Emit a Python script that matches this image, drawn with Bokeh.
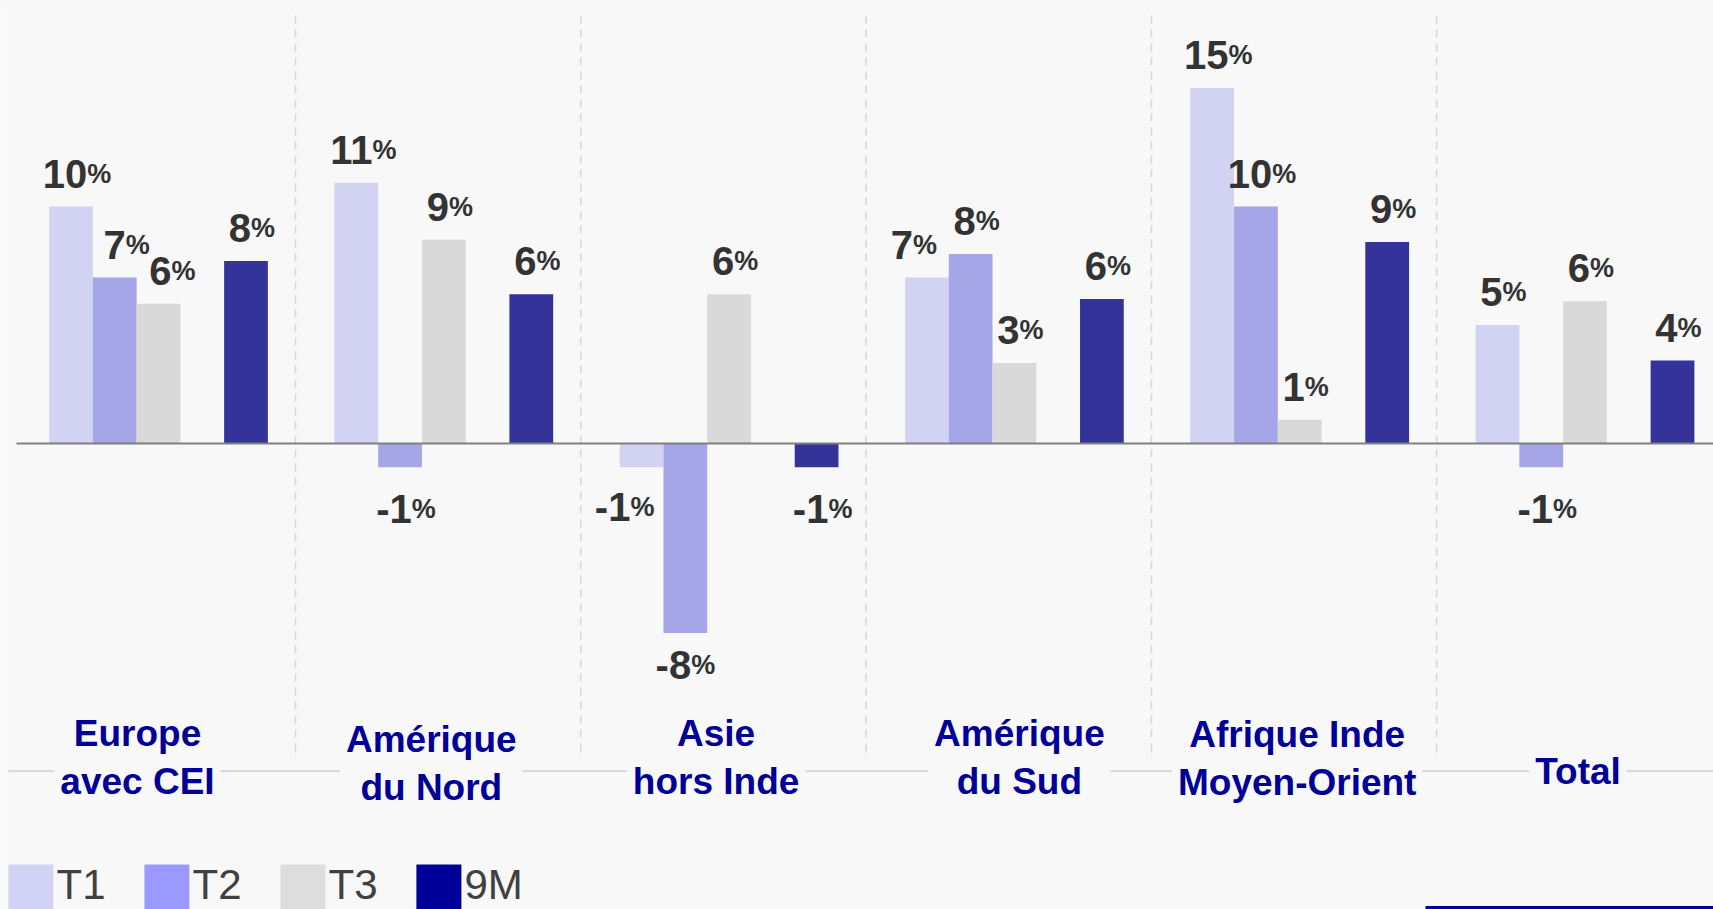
from bokeh.plotting import figure
from bokeh.models import Range1d, ColumnDataSource, Label
from bokeh.core.properties import value
from bokeh.embed import file_html
from bokeh.resources import INLINE

# ---------------- data ----------------
categories = ["Europe\navec CEI", "Amérique\ndu Nord", "Asie\nhors Inde",
              "Amérique\ndu Sud", "Afrique Inde\nMoyen-Orient", "Total"]
series = ["T1", "T2", "T3", "9M"]
t1 = [10.0, 11.0, -1.0, 7.0, 15.0, 5.0]
t2 = [7.0, -1.0, -8.0, 8.0, 10.0, -1.0]
t3 = [5.9, 8.6, 6.3, 3.4, 1.0, 6.0]
m9 = [7.7, 6.3, -1.0, 6.1, 8.5, 3.5]
t1_lbl = ["10", "11", "-1", "7", "15", "5"]
t2_lbl = ["7", "-1", "-8", "8", "10", "-1"]
t3_lbl = ["6", "9", "6", "3", "1", "6"]
m9_lbl = ["8", "6", "-1", "6", "9", "4"]

# ---------------- style ----------------
BG = "#F8F8F8"
bar_colors = ["#D2D2F2", "#A5A5E8", "#D9D9D9", "#333399"]
legend_colors = ["#D2D2F4", "#9999FF", "#DDDDDD", "#000099"]
FONT = "Liberation Sans"
W, H = 1713, 909
PX_PER_GROUP = 285.3
PX_PER_PCT = 23.7
slot = 43.75 / PX_PER_GROUP          # bar width in group units
slot_pos = [-2, -1, 0, 2]            # slot of each series inside a group

x0 = -0.5538
y1 = 18.692
x_end = x0 + W / PX_PER_GROUP
p = figure(width=W, height=H, output_backend="svg", toolbar_location=None,
           x_range=Range1d(x0, x_end),
           y_range=Range1d(y1 - H / PX_PER_PCT, y1),
           x_axis_location=None, y_axis_location=None,
           background_fill_color=BG, border_fill_color=BG,
           outline_line_color=None, min_border=0)
p.xgrid.visible = False
p.ygrid.visible = False


def sx(px):
    return x0 + px / PX_PER_GROUP


def sy(py):
    return y1 - py / PX_PER_PCT


n = len(categories)

# dashed separators between groups
sep_x = [i + 0.48 for i in range(n - 1)]
p.segment(x0=sep_x, x1=sep_x, y0=[sy(15)] * len(sep_x), y1=[sy(758)] * len(sep_x),
          line_color="#D9D9D9", line_width=1.6, line_dash="8 6")

# horizontal grey line behind category labels
LINE_Y = sy(770.7)
p.segment(x0=[sx(8)], x1=[x_end], y0=[LINE_Y], y1=[LINE_Y],
          line_color="#DADADA", line_width=2.2)

# bars
values = [t1, t2, t3, m9]
labels = [t1_lbl, t2_lbl, t3_lbl, m9_lbl]
for k in range(4):
    xs = [i + slot_pos[k] * slot for i in range(n)]
    p.vbar(x=xs, top=values[k], bottom=0, width=slot,
           fill_color=bar_colors[k], line_color=None)

# zero line
p.segment(x0=[sx(16)], x1=[x_end], y0=[0], y1=[0],
          line_color="#808080", line_width=2.2)

# value labels (number big, % small)
NUM_SIZE, PCT_SIZE = 40, 27
adv = {"-": 0.333, "%": 0.889}
nudges = {(0, 1): (12, 0), (0, 2): (14, 0), (2, 0): (-17, -2), (3, 0): (-13, 0),
          (2, 1): (0, -10)}
lx, ly, loff_x, loff_y, lnum = [], [], [], [], []
for k in range(4):
    for i in range(n):
        v = values[k][i]
        s = labels[k][i]
        nw = sum(adv.get(c, 0.556) for c in s) * NUM_SIZE
        pw = adv["%"] * PCT_SIZE
        dx, dy = nudges.get((i, k), (6, 0))
        lx.append(i + slot_pos[k] * slot)
        ly.append(v)
        loff_x.append((nw - pw) / 2 + dx)
        loff_y.append((-33 if v >= 0 else 42) + dy)
        lnum.append(s)
src = ColumnDataSource(dict(x=lx, y=ly, xo=loff_x, yo=loff_y, num=lnum,
                            pct=["%"] * len(lx)))
p.text(x="x", y="y", text="num", x_offset="xo", y_offset="yo", source=src,
       text_align="right", text_baseline="alphabetic",
       text_font=value(FONT), text_font_style="bold",
       text_font_size=value(f"{NUM_SIZE}px"), text_color="#333333")
p.text(x="x", y="y", text="pct", x_offset="xo", y_offset="yo", source=src,
       text_align="left", text_baseline="alphabetic",
       text_font=value(FONT), text_font_style="bold",
       text_font_size=value(f"{PCT_SIZE}px"), text_color="#333333")

# category labels
cat_dx = [-21, -12.5, -13, 5, -2.5, -7]
cat_dy = [0, -6, 0, 0, -1, 0]
for i, c in enumerate(categories):
    two = "\n" in c
    lab = Label(x=i, y=LINE_Y, text=c, x_offset=cat_dx[i],
                y_offset=(14 if two else 0) + cat_dy[i],
                text_align="center", text_baseline="middle",
                text_font=FONT, text_font_style="bold", text_font_size="37px",
                text_color="#000099", text_line_height=1.17,
                background_fill_color=BG, background_fill_alpha=1.0,
                padding=6)
    p.add_layout(lab)

# legend (swatches + labels), laid out in screen pixels
LEG_STEP = 136
leg_x = [sx(30.4 + LEG_STEP * k) for k in range(4)]
p.rect(x=leg_x, y=[sy(886.5)] * 4, width=45, height=45,
       width_units="screen", height_units="screen",
       fill_color=legend_colors, line_color=None)
p.text(x=[sx(56 + LEG_STEP * k) for k in range(4)], y=[sy(884)] * 4, text=series,
       text_align="left", text_baseline="middle",
       text_font=value(FONT), text_font_size=value("42px"), text_color="#404040")

# blue footer rule at the bottom right
p.quad(left=[sx(1425)], right=[x_end], bottom=[sy(909)], top=[sy(905.5)],
       fill_color="#000099", line_color=None)

open("out.html", "w").write(file_html(p, INLINE))
